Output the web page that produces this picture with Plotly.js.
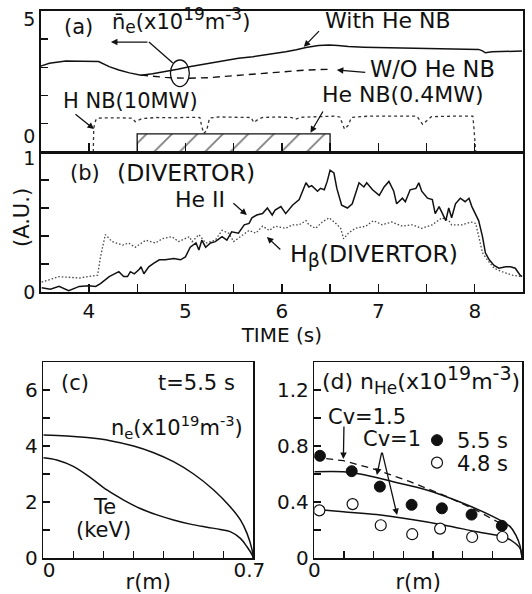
<!DOCTYPE html>
<html>
<head>
<meta charset="utf-8">
<script src="https://cdn.plot.ly/plotly-3.0.1.min.js"></script>
<style>html,body{margin:0;padding:0;background:#fff;}#chart{width:532px;height:594px;}</style>
</head>
<body>
<div id="chart"></div>
<script>
// ---------- Panel (a): line-averaged density and NB power ----------
const timeNeWith = [3.50,3.59,3.76,3.93,4.03,4.10,4.21,4.31,4.42,4.54,4.66,4.79,4.92,5.04,5.14,5.24,5.35,5.45,5.55,5.70,5.83,5.94,6.04,6.15,6.25,6.38,6.49,6.58,6.69,6.85,7.04,7.20,7.39,7.55,7.73,7.90,8.04,8.08,8.11,8.18,8.32,8.49];
const neWithHeNB = [3.04,3.14,3.22,3.20,3.21,3.20,3.02,2.90,2.80,2.72,2.77,2.84,2.93,3.02,3.08,3.14,3.20,3.27,3.32,3.37,3.43,3.50,3.55,3.62,3.70,3.77,3.79,3.77,3.73,3.71,3.70,3.70,3.69,3.68,3.67,3.65,3.63,3.58,3.51,3.55,3.57,3.57];
const timeNeWo = [4.54,4.66,4.79,4.92,5.04,5.24,5.49,5.73,5.97,6.25,6.52];
const neWoHeNB = [2.72,2.67,2.64,2.62,2.61,2.63,2.70,2.78,2.84,2.90,2.93];
const timeHNB = [4.045,4.05,4.07,4.09,4.25,4.45,4.48,4.52,4.55,4.70,4.90,5.05,5.15,5.17,5.19,5.22,5.25,5.35,5.55,5.68,5.71,5.75,5.80,5.95,6.10,6.14,6.20,6.40,6.55,6.60,6.63,6.65,6.69,6.72,6.90,7.20,7.40,7.46,7.50,7.55,7.80,7.98,7.99,8.00,8.01];
const hNbPower = [0,0.85,1.12,1.20,1.21,1.20,1.07,1.12,1.18,1.22,1.21,1.23,1.22,0.90,0.66,0.75,1.20,1.24,1.23,1.22,1.04,1.15,1.22,1.24,1.22,1.16,1.23,1.25,1.27,1.24,0.95,0.81,0.95,1.22,1.27,1.26,1.27,0.98,1.10,1.25,1.27,1.27,0.90,0.40,0];
const heNbStart = 4.5, heNbEnd = 6.5, heNbLevel = 0.64;
const aTickVals = [0.55, 4.71];
const aTickText = ['0', '5'];

// ---------- Panel (b): divertor signals ----------
const timeHeII = [3.51,3.60,3.69,3.79,3.90,4.00,4.07,4.12,4.21,4.26,4.31,4.36,4.40,4.43,4.47,4.52,4.54,4.57,4.62,4.67,4.73,4.79,4.88,4.95,5.00,5.05,5.11,5.14,5.17,5.21,5.26,5.31,5.38,5.43,5.48,5.55,5.61,5.66,5.69,5.74,5.80,5.85,5.90,5.93,5.99,6.04,6.11,6.18,6.25,6.28,6.31,6.37,6.40,6.44,6.47,6.50,6.54,6.57,6.62,6.68,6.73,6.80,6.85,6.88,6.94,7.01,7.06,7.11,7.16,7.19,7.25,7.28,7.33,7.39,7.42,7.45,7.51,7.56,7.59,7.63,7.66,7.70,7.73,7.76,7.80,7.85,7.90,7.94,7.97,8.01,8.04,8.08,8.11,8.15,8.20,8.25,8.32,8.37,8.42,8.47,8.49];
const heII = [0.03,0.02,0.04,0.01,0.04,0.045,0.04,0.06,0.11,0.13,0.145,0.11,0.11,0.145,0.13,0.16,0.18,0.13,0.18,0.205,0.23,0.23,0.24,0.23,0.25,0.32,0.35,0.30,0.37,0.32,0.35,0.36,0.395,0.37,0.43,0.42,0.48,0.49,0.53,0.55,0.56,0.60,0.55,0.585,0.61,0.56,0.62,0.66,0.78,0.75,0.76,0.72,0.74,0.73,0.79,0.87,0.85,0.74,0.62,0.60,0.63,0.78,0.75,0.78,0.73,0.69,0.75,0.79,0.72,0.63,0.67,0.645,0.73,0.74,0.78,0.72,0.67,0.66,0.56,0.61,0.57,0.51,0.60,0.53,0.63,0.67,0.645,0.67,0.61,0.55,0.51,0.395,0.28,0.23,0.19,0.17,0.18,0.18,0.17,0.12,0.11];
const timeHbeta = [3.51,3.69,3.90,4.03,4.09,4.12,4.17,4.24,4.35,4.41,4.48,4.59,4.69,4.76,4.86,4.93,5.04,5.07,5.14,5.21,5.31,5.38,5.45,5.50,5.57,5.66,5.73,5.80,5.87,5.93,6.04,6.11,6.18,6.25,6.28,6.35,6.42,6.49,6.56,6.61,6.64,6.69,6.76,6.87,6.95,7.04,7.14,7.25,7.35,7.45,7.56,7.66,7.73,7.76,7.87,7.96,8.01,8.04,8.08,8.13,8.20,8.28,8.39,8.49];
const hBeta = [0.07,0.11,0.10,0.11,0.12,0.25,0.41,0.36,0.335,0.35,0.32,0.37,0.35,0.38,0.395,0.36,0.395,0.36,0.41,0.35,0.37,0.44,0.42,0.36,0.395,0.44,0.42,0.47,0.44,0.47,0.455,0.48,0.48,0.51,0.48,0.455,0.50,0.53,0.49,0.455,0.38,0.42,0.455,0.47,0.51,0.48,0.50,0.47,0.48,0.455,0.48,0.53,0.51,0.48,0.48,0.50,0.49,0.395,0.28,0.23,0.17,0.145,0.12,0.11];
const bTimeTicks = [4, 5, 6, 7, 8];
const bTickVals = [0, 0.955];
const bTickText = ['0', '1'];

// ---------- Panel (c): profiles at t = 5.5 s ----------
const rNe = [0,0.079,0.146,0.223,0.301,0.368,0.434,0.501,0.568,0.623,0.657,0.679,0.696,0.70];
const neProfile = [4.39,4.36,4.30,4.19,4.00,3.76,3.44,3.00,2.43,1.83,1.36,0.88,0.29,0];
const rTe = [0,0.045,0.10,0.157,0.212,0.268,0.323,0.379,0.434,0.49,0.546,0.59,0.623,0.657,0.679,0.696,0.70];
const teProfile = [3.58,3.50,3.27,2.87,2.43,2.07,1.77,1.54,1.36,1.21,1.10,1.02,0.94,0.70,0.40,0.11,0];
const cTickVals = [0, 2, 4, 6];
const rTickVals3 = [0.019, 0.687];
const rTickText = ['0', '0.7'];

// ---------- Panel (d): He density profiles ----------
const rPts55 = [0.019,0.126,0.221,0.328,0.430,0.530,0.632];
const nHe55 = [0.73,0.62,0.51,0.38,0.355,0.31,0.23];
const rPts48 = [0.017,0.129,0.224,0.330,0.424,0.532,0.634];
const nHe48 = [0.34,0.385,0.234,0.17,0.21,0.15,0.15];
const rCv15 = [0,0.098,0.21,0.323,0.435,0.547,0.637];
const nHeCv15 = [0.72,0.695,0.63,0.545,0.45,0.34,0.235];
const rCv1Up = [0,0.098,0.154,0.266,0.379,0.491,0.603,0.66,0.68,0.693,0.70];
const nHeCv1Up = [0.616,0.616,0.60,0.545,0.486,0.40,0.295,0.224,0.16,0.09,0];
const rCv1Low = [0,0.098,0.21,0.323,0.435,0.547,0.637,0.67,0.693,0.70];
const nHeCv1Low = [0.348,0.33,0.31,0.276,0.236,0.188,0.152,0.116,0.07,0];
const dTickVals = [0, 0.4, 0.8, 1.2];
const dTickText = ['0', '0.4', '0.8', '1.2'];
const rTickVals4 = [0, 0.69];

// ---------- figure ----------
const W = 532, H = 594;
const FONT = 'DejaVu Sans, Arial, sans-serif';
const ink = '#111';
const hx = (a, b) => [a / W, b / W];
const vy = (top, bot) => [1 - bot / H, 1 - top / H];
const sz = (s, px) => '<span style="font-size:' + px + 'px">' + s + '</span>';

const traces = [
  {x: timeNeWith, y: neWithHeNB, xaxis: 'x', yaxis: 'y', mode: 'lines', line: {color: ink, width: 1.5}, showlegend: false},
  {x: timeNeWo, y: neWoHeNB, xaxis: 'x', yaxis: 'y', mode: 'lines', line: {color: ink, width: 1.4, dash: '7px,5px'}, showlegend: false},
  {x: timeHNB, y: hNbPower, xaxis: 'x', yaxis: 'y', mode: 'lines', line: {color: '#333', width: 1.3, dash: 'dot'}, showlegend: false},
  {x: [heNbStart, heNbStart, heNbEnd, heNbEnd, heNbStart], y: [0, heNbLevel, heNbLevel, 0, 0], xaxis: 'x', yaxis: 'y', mode: 'lines', fill: 'toself', fillcolor: 'rgba(255,255,255,1)',
    fillpattern: {shape: '/', size: 18, solidity: 0.1, fgcolor: '#000', bgcolor: '#fff', fillmode: 'overlay'}, line: {color: ink, width: 1.3}, showlegend: false},
  {x: timeHbeta, y: hBeta, xaxis: 'x2', yaxis: 'y2', mode: 'lines', line: {color: '#444', width: 1.3, dash: '1.5px,2px'}, showlegend: false},
  {x: timeHeII, y: heII, xaxis: 'x2', yaxis: 'y2', mode: 'lines', line: {color: ink, width: 1.5}, showlegend: false},
  {x: rNe, y: neProfile, xaxis: 'x3', yaxis: 'y3', mode: 'lines', line: {color: ink, width: 1.5, shape: 'spline'}, showlegend: false},
  {x: rTe, y: teProfile, xaxis: 'x3', yaxis: 'y3', mode: 'lines', line: {color: ink, width: 1.5, shape: 'spline'}, showlegend: false},
  {x: rCv15, y: nHeCv15, xaxis: 'x4', yaxis: 'y4', mode: 'lines', line: {color: ink, width: 1.3, dash: '7px,5px'}, showlegend: false},
  {x: rCv1Up, y: nHeCv1Up, xaxis: 'x4', yaxis: 'y4', mode: 'lines', line: {color: ink, width: 1.5, shape: 'spline'}, showlegend: false},
  {x: rCv1Low, y: nHeCv1Low, xaxis: 'x4', yaxis: 'y4', mode: 'lines', line: {color: ink, width: 1.5, shape: 'spline'}, showlegend: false},
  {x: rPts55, y: nHe55, xaxis: 'x4', yaxis: 'y4', mode: 'markers', name: '5.5 s', legend: 'legend',
    marker: {symbol: 'circle', size: 11, color: ink, line: {color: ink, width: 1}}},
  {x: rPts48, y: nHe48, xaxis: 'x4', yaxis: 'y4', mode: 'markers', name: '4.8 s', legend: 'legend2',
    marker: {symbol: 'circle', size: 11, color: '#fff', line: {color: ink, width: 1.2}}}
];

const axBase = {showline: true, mirror: true, linecolor: ink, linewidth: 1.5, showgrid: false, zeroline: false,
  tickcolor: ink, tickwidth: 1.3, tickfont: {family: FONT, size: 20, color: ink}, fixedrange: true};
const smallTick = {family: FONT, size: 19, color: ink};

const layout = {
  width: W, height: H, margin: {l: 0, r: 0, t: 0, b: 0},
  paper_bgcolor: '#fff', plot_bgcolor: '#fff',
  font: {family: FONT, size: 22, color: ink},
  xaxis: Object.assign({}, axBase, {domain: hx(40.7, 523), anchor: 'y', range: [3.5, 8.5], tick0: 3.5, dtick: 0.5, ticks: 'inside', ticklen: 9, showticklabels: false}),
  yaxis: Object.assign({}, axBase, {domain: vy(10.7, 152), anchor: 'x', range: [0, 5], tickmode: 'array', tickvals: aTickVals, ticktext: aTickText, ticks: 'inside', ticklen: 0, tickfont: smallTick,
    minor: {tick0: 0, dtick: 1, ticks: 'inside', ticklen: 7, tickwidth: 1.3, tickcolor: ink}}),
  xaxis2: Object.assign({}, axBase, {domain: hx(40.7, 523), anchor: 'y2', range: [3.5, 8.5], tickmode: 'array', tickvals: bTimeTicks, ticks: 'inside', ticklen: 8,
    minor: {tick0: 3.5, dtick: 0.5, ticks: 'inside', ticklen: 8, tickwidth: 1.3, tickcolor: ink},
    title: {text: 'TIME (s)', font: {family: FONT, size: 20, color: ink}, standoff: 4}}),
  yaxis2: Object.assign({}, axBase, {domain: vy(152, 292), anchor: 'x2', range: [0, 1], tickmode: 'array', tickvals: bTickVals, ticktext: bTickText, ticks: 'inside', ticklen: 0, tickfont: smallTick,
    minor: {tick0: 0, dtick: 0.2, ticks: 'inside', ticklen: 8, tickwidth: 1.3, tickcolor: ink}}),
  xaxis3: Object.assign({}, axBase, {domain: hx(43.3, 253.3), anchor: 'y3', range: [0, 0.7], tickmode: 'array', tickvals: rTickVals3, ticktext: rTickText, ticks: 'inside', ticklen: 0, ticklabelstandoff: -7,
    minor: {tick0: 0, dtick: 0.1, ticks: 'inside', ticklen: 7, tickwidth: 1.3, tickcolor: ink},
    title: {text: 'r(m)', font: {family: FONT, size: 21, color: ink}, standoff: 0}}),
  yaxis3: Object.assign({}, axBase, {domain: vy(362, 558), anchor: 'x3', range: [0, 7], tickmode: 'array', tickvals: cTickVals, ticks: 'inside', ticklen: 7,
    minor: {tick0: 0, dtick: 1, ticks: 'inside', ticklen: 7, tickwidth: 1.3, tickcolor: ink}}),
  xaxis4: Object.assign({}, axBase, {domain: hx(314.3, 522), anchor: 'y4', range: [0, 0.7], tickmode: 'array', tickvals: rTickVals4, ticktext: rTickText, ticks: 'inside', ticklen: 0, ticklabelstandoff: -7,
    minor: {tick0: 0, dtick: 0.1, ticks: 'inside', ticklen: 7, tickwidth: 1.3, tickcolor: ink},
    title: {text: 'r(m)', font: {family: FONT, size: 21, color: ink}, standoff: 0}}),
  yaxis4: Object.assign({}, axBase, {domain: vy(362, 558), anchor: 'x4', range: [0, 1.4], tickmode: 'array', tickvals: dTickVals, ticktext: dTickText, ticks: 'inside', ticklen: 7,
    minor: {tick0: 0, dtick: 0.2, ticks: 'inside', ticklen: 7, tickwidth: 1.3, tickcolor: ink}}),
  legend: {x: 417 / W, y: 1 - 440.5 / H, xanchor: 'left', yanchor: 'middle', bgcolor: 'rgba(0,0,0,0)', borderwidth: 0, font: {family: FONT, size: 21, color: ink}, itemwidth: 30},
  legend2: {x: 417 / W, y: 1 - 463 / H, xanchor: 'left', yanchor: 'middle', bgcolor: 'rgba(0,0,0,0)', borderwidth: 0, font: {family: FONT, size: 21, color: ink}, itemwidth: 30},
  shapes: [
    {type: 'circle', xref: 'x', yref: 'y', x0: 4.845, x1: 5.041, y0: 2.315, y1: 3.255, line: {color: ink, width: 1.3}},
    {type: 'line', xref: 'x', yref: 'y', x0: 4.622, y0: 3.89, x1: 4.87, y1: 3.15, line: {color: ink, width: 1.3}}
  ],
  annotations: []
};

function txt(xr, yr, x, y, text, size, extra) {
  layout.annotations.push(Object.assign({xref: xr, yref: yr, x: x, y: y, text: text, showarrow: false, xanchor: 'left', yanchor: 'middle',
    font: {family: FONT, size: size || 22, color: ink}}, extra || {}));
}
function arrow(xr, yr, x0, y0, x1, y1) {
  layout.annotations.push({xref: xr, yref: yr, axref: xr, ayref: yr, ax: x0, ay: y0, x: x1, y: y1, text: '', showarrow: true,
    arrowhead: 2, arrowsize: 1, arrowwidth: 1.3, arrowcolor: ink, standoff: 0, startstandoff: 0});
}

// panel (a)
txt('x', 'y', 3.72, 4.42, '(a)', 21);
txt('x', 'y', 4.22, 4.67, 'n\u0304<sub>' + sz('e', 17) + '</sub>(x10<sup>' + sz('19', 17) + '</sup>m<sup>' + sz('-3', 17) + '</sup>)', 21);
txt('x', 'y', 6.425, 4.67, 'With He NB');
txt('x', 'y', 6.89, 2.93, 'W/O He NB', 22.5);
txt('x', 'y', 3.71, 1.80, 'H NB(10MW)', 21);
txt('x', 'y', 6.40, 2.02, 'He NB(0.4MW)', 22);
arrow('x', 'y', 4.622, 3.89, 4.228, 3.89);
arrow('x', 'y', 6.40, 4.33, 6.228, 3.72);
arrow('x', 'y', 6.88, 2.81, 6.57, 2.90);
arrow('x', 'y', 3.845, 1.38, 4.052, 0.81);
arrow('x', 'y', 6.435, 1.486, 6.297, 0.683);

// panel (b)
txt('x2', 'y2', 3.78, 0.85, '(b)', 21);
txt('x2', 'y2', 4.27, 0.85, '(DIVERTOR)', 23.5);
txt('x2', 'y2', 4.87, 0.664, 'He II', 22);
txt('x2', 'y2', 6.06, 0.264, 'H<sub>' + sz('\u03b2', 19) + '</sub>(DIVERTOR)', 23.5);
arrow('x2', 'y2', 5.482, 0.643, 5.637, 0.55);
arrow('x2', 'y2', 6.0, 0.293, 5.845, 0.393);
layout.annotations.push({xref: 'paper', yref: 'paper', x: 22 / W, y: 1 - 218 / H, text: '(A.U.)', textangle: -90, showarrow: false,
  xanchor: 'center', yanchor: 'middle', font: {family: FONT, size: 21, color: ink}});

// panel (c)
txt('x3', 'y3', 0.052, 6.25, '(c)', 21);
txt('x3', 'y3', 0.375, 6.25, 't=5.5 s', 21);
txt('x3', 'y3', 0.218, 4.68, 'n<sub>e</sub>(x10<sup>19</sup>m<sup>-3</sup>)', 21);
txt('x3', 'y3', 0.158, 1.82, 'Te', 21);
txt('x3', 'y3', 0.102, 1.0, '(keV)', 21);

// panel (d)
txt('x4', 'y4', 0.018, 1.27, '(d) n<sub>' + sz('He', 17) + '</sub>(x10<sup>' + sz('19', 19) + '</sup>m<sup>' + sz('-3', 19) + '</sup>)', 22);
txt('x4', 'y4', 0.041, 1.007, 'Cv=1.5', 21);
txt('x4', 'y4', 0.159, 0.85, 'Cv=1', 21);
arrow('x4', 'y4', 0.10, 0.95, 0.098, 0.707);
arrow('x4', 'y4', 0.228, 0.764, 0.211, 0.593);
arrow('x4', 'y4', 0.228, 0.764, 0.279, 0.307);

Plotly.newPlot('chart', traces, layout, {staticPlot: true, displayModeBar: false});
</script>
</body>
</html>
